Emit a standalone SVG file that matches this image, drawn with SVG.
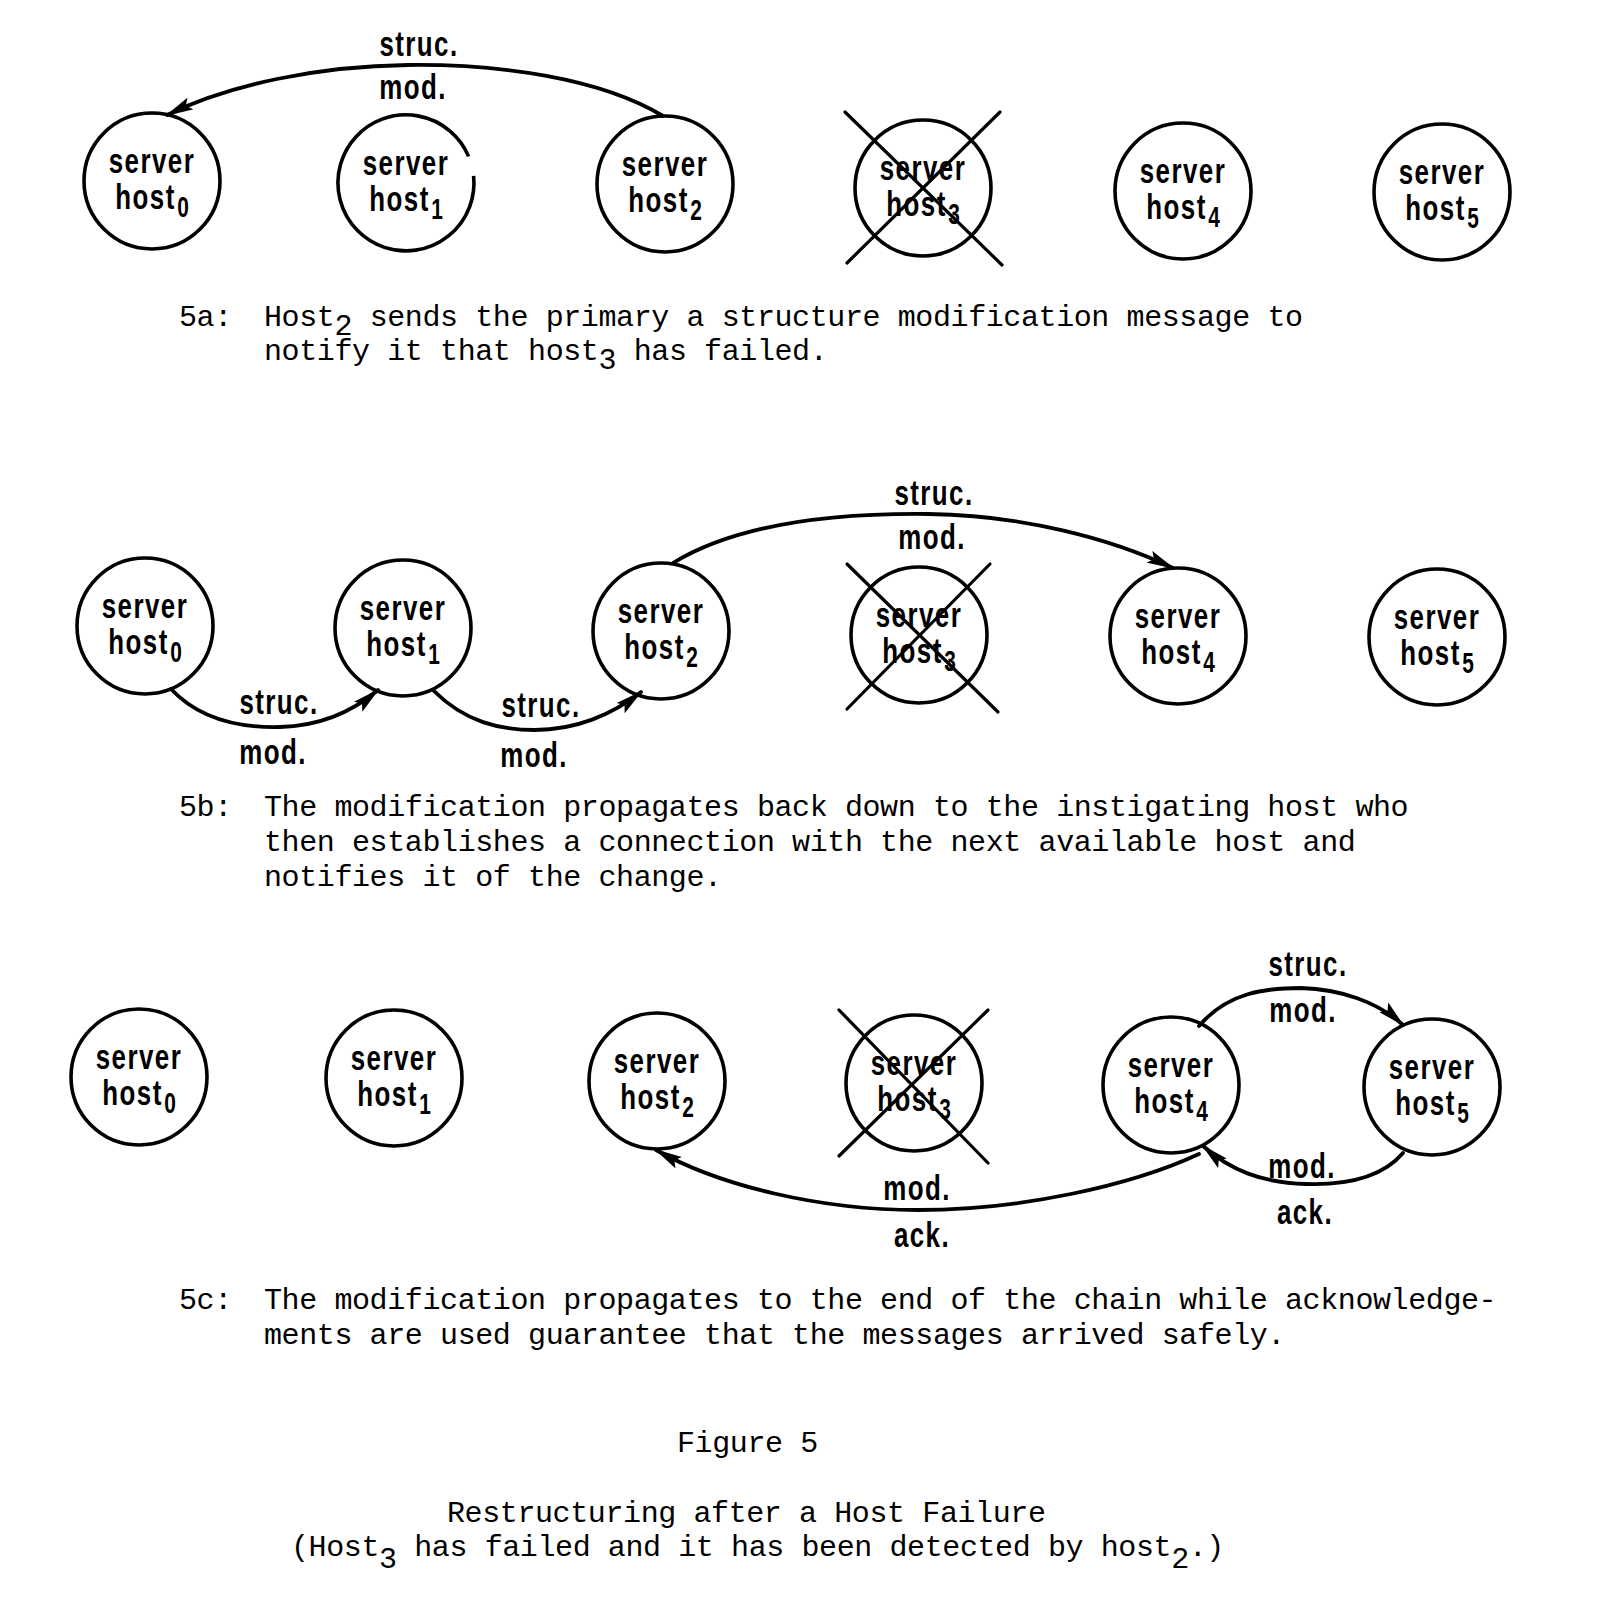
<svg xmlns="http://www.w3.org/2000/svg" width="1600" height="1600" viewBox="0 0 1600 1600">
<style>
.c{fill:none;stroke:#000;stroke-width:3.6}
.x{stroke:#000;stroke-width:3.2;stroke-linecap:round}
.a{fill:none;stroke:#000;stroke-width:3.8;stroke-linecap:round}
.t{font-family:"Liberation Sans",Arial,sans-serif;font-weight:bold;font-size:36px;letter-spacing:2px;text-anchor:middle;fill:#000}
.s{font-size:29px;letter-spacing:0}
.cap{font-family:"Liberation Mono","Courier New",monospace;font-size:30px;letter-spacing:-0.4px;fill:#000}
</style>
<defs>
<marker id="ah" viewBox="0 0 28 14" refX="26" refY="7" markerWidth="28" markerHeight="14" markerUnits="userSpaceOnUse" orient="auto">
<path d="M0,0.5 L28,7 L0,13.5 L5,7 z" fill="#000"/>
</marker>
</defs>
<rect width="1600" height="1600" fill="#fff"/>

<!-- Row 5a -->
<g id="a-host0" transform="translate(152,181)"><circle class="c" r="68"/><text class="t" y="-8" transform="scale(0.72,1)">server</text><text class="t" y="28" transform="scale(0.72,1)">host<tspan class="s" dx="2" dy="8">0</tspan></text></g>
<g id="a-host1" transform="translate(406,183)"><path class="c" d="M67.6,-7.1 A68,68 0 1 1 62.6,-26.6"/><text class="t" y="-8" transform="scale(0.72,1)">server</text><text class="t" y="28" transform="scale(0.72,1)">host<tspan class="s" dx="2" dy="8">1</tspan></text></g>
<g id="a-host2" transform="translate(665,184)"><circle class="c" r="68"/><text class="t" y="-8" transform="scale(0.72,1)">server</text><text class="t" y="28" transform="scale(0.72,1)">host<tspan class="s" dx="2" dy="8">2</tspan></text></g>
<g id="a-host3" transform="translate(923,188)"><circle class="c" r="68"/><text class="t" y="-8" transform="scale(0.72,1)">server</text><text class="t" y="28" transform="scale(0.72,1)">host<tspan class="s" dx="2" dy="8">3</tspan></text></g>
<g id="a-host3-x"><line class="x" x1="845" y1="112" x2="1002" y2="265"/><line class="x" x1="1000" y1="112" x2="847" y2="263"/></g>
<g id="a-host4" transform="translate(1183,191)"><circle class="c" r="68"/><text class="t" y="-8" transform="scale(0.72,1)">server</text><text class="t" y="28" transform="scale(0.72,1)">host<tspan class="s" dx="2" dy="8">4</tspan></text></g>
<g id="a-host5" transform="translate(1442,192)"><circle class="c" r="68"/><text class="t" y="-8" transform="scale(0.72,1)">server</text><text class="t" y="28" transform="scale(0.72,1)">host<tspan class="s" dx="2" dy="8">5</tspan></text></g>

<!-- Row 5b -->
<g id="b-host0" transform="translate(145,626)"><circle class="c" r="68"/><text class="t" y="-8" transform="scale(0.72,1)">server</text><text class="t" y="28" transform="scale(0.72,1)">host<tspan class="s" dx="2" dy="8">0</tspan></text></g>
<g id="b-host1" transform="translate(403,628)"><circle class="c" r="68"/><text class="t" y="-8" transform="scale(0.72,1)">server</text><text class="t" y="28" transform="scale(0.72,1)">host<tspan class="s" dx="2" dy="8">1</tspan></text></g>
<g id="b-host2" transform="translate(661,631)"><circle class="c" r="68"/><text class="t" y="-8" transform="scale(0.72,1)">server</text><text class="t" y="28" transform="scale(0.72,1)">host<tspan class="s" dx="2" dy="8">2</tspan></text></g>
<g id="b-host3" transform="translate(919,635)"><circle class="c" r="68"/><text class="t" y="-8" transform="scale(0.72,1)">server</text><text class="t" y="28" transform="scale(0.72,1)">host<tspan class="s" dx="2" dy="8">3</tspan></text></g>
<g id="b-host3-x"><line class="x" x1="847" y1="564" x2="998" y2="712"/><line class="x" x1="990" y1="564" x2="847" y2="709"/></g>
<g id="b-host4" transform="translate(1178,636)"><circle class="c" r="68"/><text class="t" y="-8" transform="scale(0.72,1)">server</text><text class="t" y="28" transform="scale(0.72,1)">host<tspan class="s" dx="2" dy="8">4</tspan></text></g>
<g id="b-host5" transform="translate(1437,637)"><circle class="c" r="68"/><text class="t" y="-8" transform="scale(0.72,1)">server</text><text class="t" y="28" transform="scale(0.72,1)">host<tspan class="s" dx="2" dy="8">5</tspan></text></g>

<!-- Row 5c -->
<g id="c-host0" transform="translate(139,1077)"><circle class="c" r="68"/><text class="t" y="-8" transform="scale(0.72,1)">server</text><text class="t" y="28" transform="scale(0.72,1)">host<tspan class="s" dx="2" dy="8">0</tspan></text></g>
<g id="c-host1" transform="translate(394,1078)"><circle class="c" r="68"/><text class="t" y="-8" transform="scale(0.72,1)">server</text><text class="t" y="28" transform="scale(0.72,1)">host<tspan class="s" dx="2" dy="8">1</tspan></text></g>
<g id="c-host2" transform="translate(657,1081)"><circle class="c" r="68"/><text class="t" y="-8" transform="scale(0.72,1)">server</text><text class="t" y="28" transform="scale(0.72,1)">host<tspan class="s" dx="2" dy="8">2</tspan></text></g>
<g id="c-host3" transform="translate(914,1083)"><circle class="c" r="68"/><text class="t" y="-8" transform="scale(0.72,1)">server</text><text class="t" y="28" transform="scale(0.72,1)">host<tspan class="s" dx="2" dy="8">3</tspan></text></g>
<g id="c-host3-x"><line class="x" x1="839" y1="1010" x2="988" y2="1163"/><line class="x" x1="988" y1="1010" x2="839" y2="1156"/></g>
<g id="c-host4" transform="translate(1171,1085)"><circle class="c" r="68"/><text class="t" y="-8" transform="scale(0.72,1)">server</text><text class="t" y="28" transform="scale(0.72,1)">host<tspan class="s" dx="2" dy="8">4</tspan></text></g>
<g id="c-host5" transform="translate(1432,1087)"><circle class="c" r="68"/><text class="t" y="-8" transform="scale(0.72,1)">server</text><text class="t" y="28" transform="scale(0.72,1)">host<tspan class="s" dx="2" dy="8">5</tspan></text></g>

<!-- Connectors -->
<g id="connectors">
<path class="a" marker-end="url(#ah)" d="M663,116 C600,78 500,64 408,65 C320,66 230,84 167,115"/>
<path class="a" marker-end="url(#ah)" d="M673,563 C740,522 840,513 929,514 C1020,515 1110,538 1173,568"/>
<path class="a" marker-end="url(#ah)" d="M171,689 C200,720 240,728 280,727 C320,726 352,712 378,690"/>
<path class="a" marker-end="url(#ah)" d="M434,691 C465,722 500,730 535,730 C575,730 612,715 641,692"/>
<path class="a" marker-end="url(#ah)" d="M1199,1026 C1228,992 1266,988 1301,988 C1340,989 1378,1002 1403,1025"/>
<path class="a" marker-end="url(#ah)" d="M1403,1153 C1380,1180 1340,1185 1306,1184 C1262,1183 1230,1170 1203,1146"/>
<path class="a" marker-end="url(#ah)" d="M1199,1154 C1130,1186 1020,1210 918,1210 C820,1210 720,1186 656,1150"/>
</g>

<!-- Connector labels -->
<g id="labels">
<text class="t" transform="translate(419,56) scale(0.72,1)">struc.</text>
<text class="t" transform="translate(413,99) scale(0.72,1)">mod.</text>
<text class="t" transform="translate(934,505) scale(0.72,1)">struc.</text>
<text class="t" transform="translate(932,549) scale(0.72,1)">mod.</text>
<text class="t" transform="translate(279,714) scale(0.72,1)">struc.</text>
<text class="t" transform="translate(273,764) scale(0.72,1)">mod.</text>
<text class="t" transform="translate(541,717) scale(0.72,1)">struc.</text>
<text class="t" transform="translate(534,767) scale(0.72,1)">mod.</text>
<text class="t" transform="translate(1308,976) scale(0.72,1)">struc.</text>
<text class="t" transform="translate(1303,1022) scale(0.72,1)">mod.</text>
<text class="t" transform="translate(1302,1178) scale(0.72,1)">mod.</text>
<text class="t" transform="translate(1305,1224) scale(0.72,1)">ack.</text>
<text class="t" transform="translate(917,1200) scale(0.72,1)">mod.</text>
<text class="t" transform="translate(922,1247) scale(0.72,1)">ack.</text>
</g>

<!-- Captions -->
<g id="captions">
<text class="cap" x="179" y="326">5a:</text>
<text class="cap" x="264" y="326">Host<tspan dy="9">2</tspan><tspan dy="-9"> sends the primary a structure modification message to</tspan></text>
<text class="cap" x="264" y="360">notify it that host<tspan dy="9">3</tspan><tspan dy="-9"> has failed.</tspan></text>

<text class="cap" x="179" y="816">5b:</text>
<text class="cap" x="264" y="816">The modification propagates back down to the instigating host who</text>
<text class="cap" x="264" y="851">then establishes a connection with the next available host and</text>
<text class="cap" x="264" y="886">notifies it of the change.</text>

<text class="cap" x="179" y="1309">5c:</text>
<text class="cap" x="264" y="1309">The modification propagates to the end of the chain while acknowledge-</text>
<text class="cap" x="264" y="1344">ments are used guarantee that the messages arrived safely.</text>

<text class="cap" x="677" y="1452">Figure 5</text>
<text class="cap" x="447" y="1522">Restructuring after a Host Failure</text>
<text class="cap" x="291" y="1556">(Host<tspan dy="12">3</tspan><tspan dy="-12"> has failed and it has been detected by host</tspan><tspan dy="12">2</tspan><tspan dy="-12">.)</tspan></text>
</g>
</svg>
